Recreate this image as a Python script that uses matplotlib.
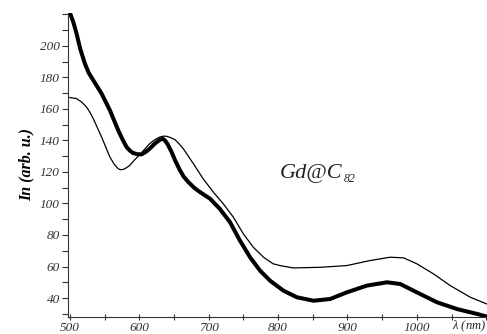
import matplotlib
matplotlib.use("Agg")
import matplotlib.pyplot as plt
from matplotlib.ticker import MultipleLocator

# wavelength (nm) / intensity (arb. u.)
lam_thick = [500, 505, 509.6, 515, 521.6, 527, 533.7, 545.7, 557.7, 569.7, 576, 581.7,
             587, 591, 597, 603, 609, 615, 622, 630, 634, 637, 641, 646.6, 652,
             658.7, 664, 670.7, 679, 687.5, 702, 716, 730.8, 745, 759.6, 774,
             788.5, 807.7, 827, 851, 875, 899, 928, 957, 976, 1000, 1029, 1058,
             1087, 1101]
int_thick = [221, 215, 207.8, 198, 188.8, 183, 178.2, 169.7, 159.1, 146.4, 140.5, 135.8,
             133.3, 132, 131.3, 131.1, 132.6, 134.7, 137.8, 140.5, 141, 140, 137.5,
             132.6, 127, 121, 117, 113.6, 110, 107.2, 103, 96.6, 88.1, 76.5, 65.9,
             57.4, 51, 44.7, 40.5, 38.3, 39.4, 43.6, 47.9, 50, 48.9, 43.6, 37.3,
             33, 29.9, 28.2]

lam_thin = [500, 509.6, 517, 524, 529, 533.7, 545.7, 557.7, 564, 569.7, 573, 577, 581,
            586.5, 593, 601, 615, 623, 630, 635, 639.4, 645, 651.4, 657, 663.5,
            678, 692, 706.7, 721, 735.6, 750, 764.4, 779, 793, 802.9, 822, 860.6,
            899, 932.7, 961.5, 980.8, 1000, 1024, 1048, 1077, 1101]
int_thin = [167.2, 166.5, 164.3, 161.2, 157.8, 153.8, 142.2, 129.4, 124.8, 122, 121.4,
            121.6, 122.5, 124.2, 127.5, 131.1, 137.9, 140.6, 142.2, 142.7, 142.6,
            141.8, 140.5, 138, 134.7, 125.2, 115.7, 107.2, 99.8, 91.3, 80.7, 72.2,
            65.9, 61.7, 60.6, 59.1, 59.5, 60.6, 63.8, 65.9, 65.5, 61.7, 55.3, 47.9,
            40.5, 36.2]

xticks = [500, 600, 700, 800, 900, 1000]
yticks = [40, 60, 80, 100, 120, 140, 160, 180, 200]

plt.rcParams['font.family'] = 'Liberation Serif'
plt.rcParams['mathtext.fontset'] = 'custom'
plt.rcParams['mathtext.it'] = 'Liberation Serif:italic'
plt.rcParams['mathtext.rm'] = 'Liberation Serif:italic'

fig = plt.figure(figsize=(4.87, 3.34), dpi=100)
ax = fig.add_axes([0.140, 0.051, 0.860, 0.911])

ax.plot(lam_thick, int_thick, color='black', lw=2.9, solid_capstyle='round',
        solid_joinstyle='round')
ax.plot(lam_thin, int_thin, color='black', lw=0.9, solid_joinstyle='round')

ax.set_xlim(497.6, 1101)
ax.set_ylim(28, 221)

ax.spines['top'].set_visible(False)
ax.spines['right'].set_visible(False)
ax.spines['left'].set_color('#333333')
ax.spines['bottom'].set_color('#333333')

ax.set_xticks(xticks)
ax.set_xticklabels([str(v) for v in xticks], fontstyle='italic', fontsize=9.5, color='#222222')
ax.set_yticks(yticks)
ax.set_yticklabels([str(v) for v in yticks], fontstyle='italic', fontsize=9.5, color='#222222')
ax.xaxis.set_minor_locator(MultipleLocator(50))
ax.yaxis.set_minor_locator(MultipleLocator(10))
ax.tick_params(axis='x', which='both', direction='inout', length=5, width=0.8, pad=1, colors='#333333')
ax.tick_params(axis='y', which='both', direction='out', length=4, width=0.8, pad=2, colors='#333333')

ax.text(0.998, -0.006, r'$\lambda$ (nm)', transform=ax.transAxes, ha='right', va='top',
        fontstyle='italic', fontsize=9, color='#222222')
ax.set_ylabel('In (arb. u.)', fontstyle='italic', fontweight='bold', fontsize=11.5, labelpad=4)

ax.text(803, 116, 'Gd@C', fontsize=16, fontstyle='italic', ha='left', va='baseline',
        color='#222222')
ax.annotate('82', xy=(803, 116), xytext=(45.5, -3), textcoords='offset points',
            fontsize=8.5, fontstyle='italic', ha='left', va='baseline', color='#222222')

fig.savefig('out.png', dpi=100)
